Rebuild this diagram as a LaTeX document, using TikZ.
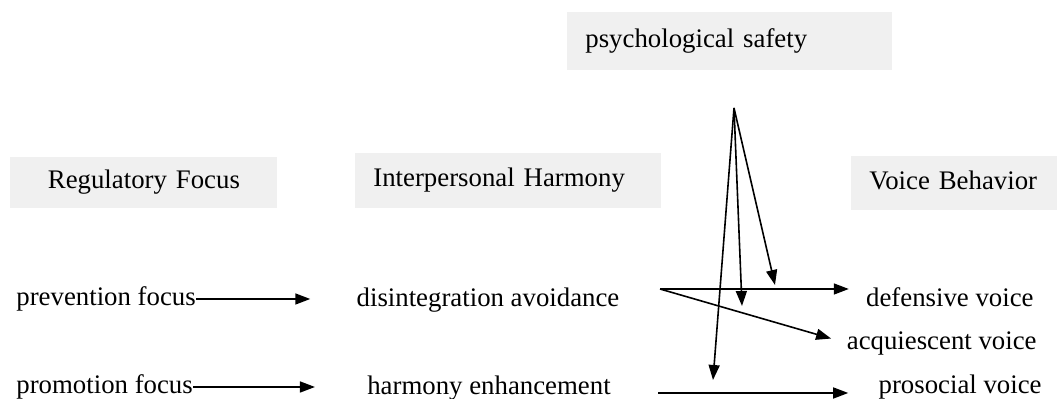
\documentclass[tikz,border=0pt]{standalone}
\usepackage{fontspec}
\setmainfont{Liberation Serif}
\usepackage{tikz}
\usetikzlibrary{arrows.meta,positioning,calc}
\definecolor{hdrGray}{HTML}{F0F0F0}
\tikzset{
  etiq/.style={font=\fontsize{13.4pt}{16pt}\selectfont, inner sep=0pt, text height=9.5pt, text depth=3pt},
  cabecera/.style={etiq, fill=hdrGray, inner xsep=9pt, inner ysep=0pt, anchor=west, align=left, minimum height=#1},
  arrflow/.style={-{Triangle[length=7.5pt,width=5.5pt]}, line width=0.8pt},
}

\begin{document}
\begin{tikzpicture}[x=0.5pt, y=-0.5pt]
\useasboundingbox (0,0) rectangle (1057,399);

% Cabeceras
\node[cabecera=29pt, text width=144.5pt] (ps) at (567,41) {psychological safety};
\node[cabecera=25.5pt, text width=115.5pt, align=center] (rf) at (10,182.5) {Regulatory Focus};
\node[cabecera=27.5pt, text width=135pt] (ih) at (355,180.5) {Interpersonal Harmony};
\node[cabecera=27pt, text width=97pt] (vb) at (851,183) {Voice Behavior};

% Variables
\node[etiq, anchor=west] (pf) at (16,299) {prevention focus};
\node[etiq, anchor=west] (pm) at (16,387) {promotion focus};
\node[etiq] (da) at (488,300) {disintegration avoidance};
\node[etiq] (he) at (489,388) {harmony enhancement};
\node[etiq, anchor=east] (dv) at (1034,300) {defensive voice};
\node[etiq, anchor=east] (av) at (1037,343) {acquiescent voice};
\node[etiq, anchor=east] (pv) at (1042,387) {prosocial voice};

% Puntos libres
\coordinate (s1) at (660,289);
\coordinate (s2) at (658,393);
\coordinate (hub) at (734,108);
\coordinate (h1) at (775,285);
\coordinate (h2) at (742,306);
\coordinate (h3) at (713,380);

% Flechas
\draw[arrflow, shorten >=23pt] (pf.east) -- (pf.east -| da.west);
\draw[arrflow, shorten >=26pt] (pm.east) -- (pm.east -| he.west);
\draw[arrflow, shorten >=8.5pt] (s1) -- (s1 -| dv.west);
\draw[arrflow, shorten >=8pt] (s1) -- (av.west);
\draw[arrflow, shorten >=15pt] (s2) -- (s2 -| pv.west);
\draw[arrflow] (hub) -- (h1);
\draw[arrflow] (hub) -- (h2);
\draw[arrflow] (hub) -- (h3);
\end{tikzpicture}
\end{document}
